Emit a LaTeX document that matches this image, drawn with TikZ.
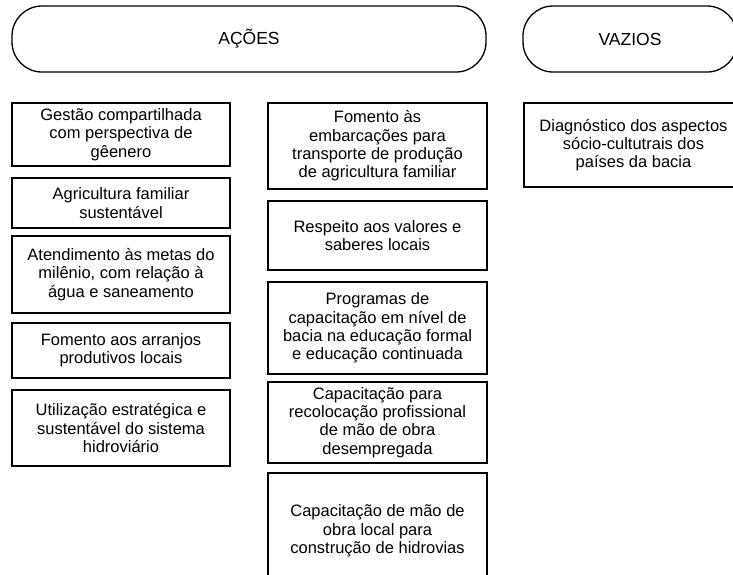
\documentclass[tikz,border=0pt]{standalone}
\usepackage{fontspec}
\setmainfont{Liberation Sans}

\begin{document}
\begin{tikzpicture}[
    x=1pt, y=-1pt,
    pill/.style={
        draw, line width=1.3pt, rounded corners=30pt,
        minimum height=66pt, inner sep=0pt,
        font=\fontsize{17.5}{19}\selectfont
    },
    acao/.style={
        draw, line width=1.2pt, align=center, inner sep=0pt,
        font=\fontsize{16.5}{18.3}\selectfont
    },
    col/.style={acao, minimum width=218pt},
    colb/.style={acao, minimum width=219pt}
]
  \useasboundingbox (0,0) rectangle (733,574);
  \clip (0,0) rectangle (733,574);

  % Headers
  \node[pill, minimum width=474pt] (acoes)  at (249,39) {AÇÕES};
  \node[pill, minimum width=214pt] (vazios) at (630,39) {VAZIOS};

  % First column of actions
  \node[col, minimum height=63pt] (gestao)    at (121,134.5) {Gestão compartilhada\\com perspectiva de\\gêenero};
  \node[col, minimum height=50pt] (agricult)  at (121,203)   {Agricultura familiar\\sustentável};
  \node[col, minimum height=77pt] (metas)     at (121,274.5) {Atendimento às metas do\\milênio, com relação à\\água e saneamento};
  \node[col, minimum height=55pt] (arranjos)  at (121,350.5) {Fomento aos arranjos\\produtivos locais};
  \node[col, minimum height=76pt] (hidrovia)  at (121,428)   {Utilização estratégica e\\sustentável do sistema\\hidroviário};

  % Second column of actions
  \node[colb, minimum height=86pt] (embarca)  at (377.5,146)   {Fomento às\\embarcações para\\transporte de produção\\de agricultura familiar};
  \node[colb, minimum height=69pt] (saberes)  at (377.5,235.5) {Respeito aos valores e\\saberes locais};
  \node[colb, minimum height=92pt] (programa) at (377.5,328)   {Programas de\\capacitação em nível de\\bacia na educação formal\\e educação continuada};
  \node[colb, minimum height=81pt] (recoloca) at (377.5,422.5) {Capacitação para\\recolocação profissional\\de mão de obra\\desempregada};
  \node[colb, minimum height=116pt] (maoobra) at (377.5,531)   {Capacitação de mão de\\obra local para\\construção de hidrovias};

  % Gaps
  \node[colb, minimum height=84pt] (diagnost) at (633.5,145) {Diagnóstico dos aspectos\\sócio-cultutrais dos\\países da bacia};
\end{tikzpicture}
\end{document}
